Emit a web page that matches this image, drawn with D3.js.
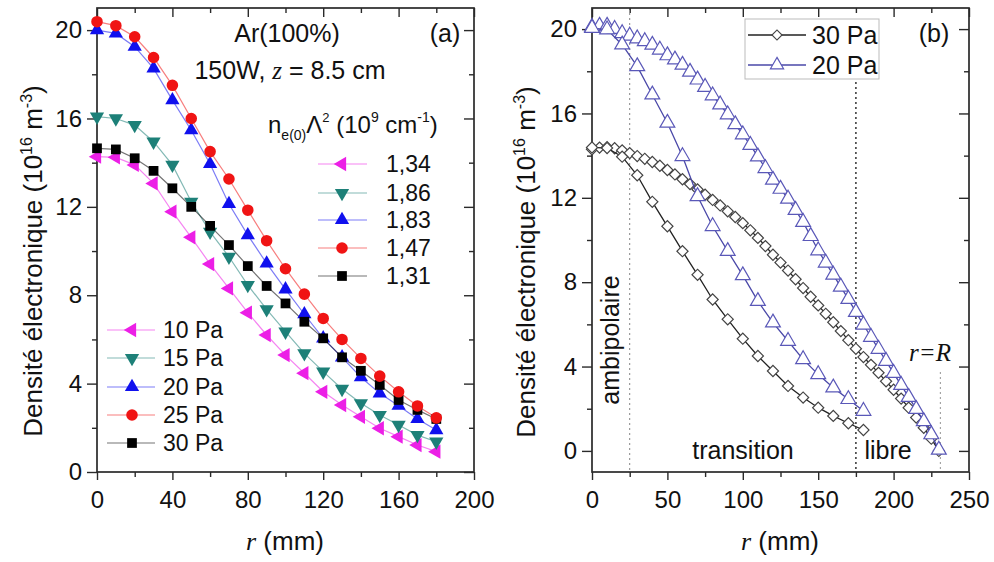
<!DOCTYPE html>
<html><head><meta charset="utf-8">
<script src="https://cdn.jsdelivr.net/npm/d3@7"></script>
<style>
body{margin:0;background:#fff;}
text{font-family:"Liberation Sans",Arial,sans-serif;fill:#111;}
</style></head>
<body><svg id="c" width="994" height="562"></svg>
<script>
// ---------- DATA ----------
// Panel (a): r positions (mm)
const rA = [0,10,20,30,40,50,60,70,80,90,100,110,120,130,140,150,160,170,180];
const p10 = [14.27,14.24,13.9,13.06,11.78,10.62,9.41,8.31,7.21,6.2,5.29,4.47,3.63,3.03,2.5,1.98,1.6,1.22,0.92];
const p15 = [16.08,16.0,15.7,14.95,13.9,12.23,10.87,9.74,8.46,7.36,6.35,5.37,4.54,3.76,3.11,2.58,2.13,1.67,1.37];
const p20 = [20.0,19.85,19.25,18.27,16.83,15.47,13.94,12.13,10.72,9.44,8.27,7.14,6.05,5.19,4.29,3.56,3.0,2.4,1.9];
const p25 = [20.38,20.2,19.7,18.76,17.5,16.0,14.5,13.26,11.85,10.47,9.2,8.05,6.95,6.0,5.14,4.34,3.63,2.99,2.45];
const p30 = [14.65,14.6,14.2,13.63,12.84,12.0,11.14,10.27,9.32,8.42,7.63,6.8,6.05,5.19,4.58,3.94,3.26,2.81,2.4];
const seriesNamesA = ["10 Pa","15 Pa","20 Pa","25 Pa","30 Pa"];
const lambdaLabels = ["1,34","1,86","1,83","1,47","1,31"];
const ticksAx = [0,40,80,120,160,200];
const ticksAy = [0,4,8,12,16,20];

// Panel (b)
const rSteep = [0,10,20,30,40,50,60,70,80,90,100,110,120,130,140,150,160,170,180];
const steep30 = [14.39,14.36,13.95,13.07,11.81,10.65,9.47,8.35,7.18,6.24,5.32,4.5,3.79,3.08,2.53,2.05,1.66,1.31,0.99];
const steep20 = [20.05,19.98,19.26,18.23,16.89,15.55,13.97,12.07,10.65,9.47,8.32,7.1,6.08,5.21,4.34,3.63,3.0,2.45,1.89];
const rWide = [0,5,10,15,20,25,30,35,40,45,50,55,60,65,70,75,80,85,90,95,100,105,110,115,120,125,130,135,140,145,150,155,160,165,170,175,180,185,190,195,200,205,210,215,220,225,230];
const wide30 = [14.30,14.38,14.40,14.35,14.25,14.12,13.98,13.85,13.70,13.52,13.32,13.11,12.88,12.65,12.40,12.15,11.90,11.64,11.36,11.09,10.80,10.46,10.10,9.71,9.30,8.93,8.55,8.14,7.72,7.31,6.90,6.50,6.10,5.68,5.25,4.84,4.45,4.08,3.70,3.30,2.90,2.48,2.05,1.58,1.10,0.58,0.0];
const wide20 = [20.10,20.15,20.15,20.0,19.80,19.68,19.55,19.42,19.25,19.02,18.75,18.55,18.30,17.97,17.60,17.25,16.85,16.42,15.95,15.48,15.00,14.50,13.95,13.40,12.85,12.42,11.95,11.42,10.85,10.18,9.50,8.92,8.35,7.78,7.20,6.58,5.98,5.40,4.83,4.26,3.69,3.12,2.55,1.98,1.40,0.78,0.05];
const seriesNamesB = ["30 Pa","20 Pa"];
const ticksBx = [0,50,100,150,200,250];
const ticksBy = [0,4,8,12,16,20];
const regionMarks = [25,175,231];

// ---------- DRAW ----------
const svg = d3.select("#c");
const FRAME = "#2a2a2a";

function frameAxes(x, y, majX, minX, majY, minY, fmtX) {
  const [x0,x1] = x.range(), [y0,y1] = y.range();
  const g = svg.append("g");
  const style = sel => { sel.select(".domain").remove(); sel.selectAll("line").attr("stroke",FRAME).attr("stroke-width",1.4);
    sel.selectAll("text").style("font-size","24px").style("font-family","'Liberation Sans',Arial,sans-serif").attr("fill","#111"); };
  g.append("g").attr("transform",`translate(0,${y0})`).call(d3.axisBottom(x).tickValues(majX).tickSize(8).tickPadding(11).tickFormat(fmtX)).call(style);
  g.append("g").attr("transform",`translate(0,${y0})`).call(d3.axisBottom(x).tickValues(minX).tickSize(5).tickFormat("")).call(style);
  g.append("g").attr("transform",`translate(${x0},0)`).call(d3.axisLeft(y).tickValues(majY).tickSize(10).tickPadding(5).tickFormat(d3.format("d"))).call(style);
  g.append("g").attr("transform",`translate(${x0},0)`).call(d3.axisLeft(y).tickValues(minY).tickSize(5).tickFormat("")).call(style);
  g.append("g").attr("transform",`translate(0,${y1})`).call(d3.axisTop(x).tickValues(majX).tickSize(-9).tickFormat("")).call(style);
  g.append("g").attr("transform",`translate(0,${y1})`).call(d3.axisTop(x).tickValues(minX).tickSize(-5).tickFormat("")).call(style);
  g.append("g").attr("transform",`translate(${x1},0)`).call(d3.axisRight(y).tickValues(majY).tickSize(-10).tickFormat("")).call(style);
  g.append("g").attr("transform",`translate(${x1},0)`).call(d3.axisRight(y).tickValues(minY).tickSize(-5).tickFormat("")).call(style);
  g.append("rect").attr("x",x0).attr("y",y1).attr("width",x1-x0).attr("height",y0-y1)
    .attr("fill","none").attr("stroke",FRAME).attr("stroke-width",1.7);
}

function yTitle(xb, yc) {
  const t = svg.append("text").attr("transform",`translate(${xb},${yc}) rotate(-90)`)
    .attr("text-anchor","middle").style("font-size","26px");
  t.append("tspan").text("Densité électronique (10");
  t.append("tspan").attr("dy",-10).style("font-size","16px").text("16");
  t.append("tspan").attr("dy",10).text(" m");
  t.append("tspan").attr("dy",-10).style("font-size","16px").text("-3");
  t.append("tspan").attr("dy",10).text(")");
}
function xTitle(xc) {
  const t = svg.append("text").attr("x",xc).attr("y",550).attr("text-anchor","middle").style("font-size","26px");
  t.append("tspan").style("font-family","'Liberation Serif',serif").style("font-style","italic").text("r");
  t.append("tspan").text(" (mm)");
}

// ---------- Panel (a) ----------
const xA = d3.scaleLinear().domain([0,200]).range([97,474]);
const yA = d3.scaleLinear().domain([0,21]).range([472,8]);
frameAxes(xA, yA, ticksAx, [20,60,100,140,180], ticksAy, [2,6,10,14,18], d3.format("d"));
yTitle(42, 261);
xTitle(285);

const colsA = ["#ec1fe6","#1d8078","#1010ee","#f01414","#000000"];
const symA = [
  {type:d3.symbolTriangle, rot:-90, size:88},
  {type:d3.symbolTriangle, rot:180, size:88},
  {type:d3.symbolTriangle, rot:0, size:88},
  {type:d3.symbolCircle, rot:0, size:105},
  {type:d3.symbolSquare, rot:0, size:95}
];
const dataA = [p10,p15,p20,p25,p30];
const lineA = d3.line().x((d,i)=>xA(rA[i])).y(d=>yA(d));
const order = [0,1,2,4,3];
order.forEach(k=>{
  svg.append("path").datum(dataA[k]).attr("d",lineA).attr("fill","none")
    .attr("stroke",colsA[k]).attr("stroke-opacity",0.55).attr("stroke-width",1.2);
});
order.forEach(k=>{
  const s = d3.symbol().type(symA[k].type).size(symA[k].size);
  svg.append("g").selectAll("path").data(dataA[k]).join("path")
    .attr("d",s).attr("fill",colsA[k])
    .attr("transform",(d,i)=>`translate(${xA(rA[i])},${yA(d)}) rotate(${symA[k].rot})`);
});

// legend 1 (pressures)
const leg1y = [330,358,387,415,443];
seriesNamesA.forEach((n,k)=>{
  const yy = leg1y[k];
  svg.append("line").attr("x1",107).attr("x2",155).attr("y1",yy).attr("y2",yy).attr("stroke",colsA[k]).attr("stroke-opacity",0.55).attr("stroke-width",1.2);
  svg.append("path").attr("d",d3.symbol().type(symA[k].type).size(symA[k].size)).attr("fill",colsA[k])
    .attr("transform",`translate(132,${yy}) rotate(${symA[k].rot})`);
  svg.append("text").attr("x",163).attr("y",yy+8).style("font-size","23px").text(n);
});
// legend 2 (lambda)
const leg2y = [164,193,220,248,276];
lambdaLabels.forEach((n,k)=>{
  const yy = leg2y[k];
  svg.append("line").attr("x1",318).attr("x2",367).attr("y1",yy).attr("y2",yy).attr("stroke",colsA[k]).attr("stroke-opacity",0.55).attr("stroke-width",1.2);
  svg.append("path").attr("d",d3.symbol().type(symA[k].type).size(symA[k].size)).attr("fill",colsA[k])
    .attr("transform",`translate(342,${yy}) rotate(${symA[k].rot})`);
  svg.append("text").attr("x",386).attr("y",yy+8).style("font-size","23px").text(n);
});
// annotations (a)
svg.append("text").attr("x",287).attr("y",42).attr("text-anchor","middle").style("font-size","25px").text("Ar(100%)");
{
  const t = svg.append("text").attr("x",290).attr("y",79).attr("text-anchor","middle").style("font-size","25px");
  t.append("tspan").text("150W, ");
  t.append("tspan").style("font-family","'Liberation Serif',serif").style("font-style","italic").text("z");
  t.append("tspan").text(" = 8.5 cm");
}
svg.append("text").attr("x",445).attr("y",42).attr("text-anchor","middle").style("font-size","25px").text("(a)");
{
  const t = svg.append("text").attr("x",268).attr("y",133).style("font-size","24px");
  t.append("tspan").text("n");
  t.append("tspan").attr("dy",7).style("font-size","14px").text("e(0)");
  t.append("tspan").attr("dy",-7).text("Λ");
  t.append("tspan").attr("dy",-11).style("font-size","13px").text("2");
  t.append("tspan").attr("dy",11).text(" (10");
  t.append("tspan").attr("dy",-11).style("font-size","14px").text("9");
  t.append("tspan").attr("dy",11).text(" cm");
  t.append("tspan").attr("dy",-11).style("font-size","14px").text("-1");
  t.append("tspan").attr("dy",11).text(")");
}

// ---------- Panel (b) ----------
const xB = d3.scaleLinear().domain([0,250]).range([592,969]);
const yB = d3.scaleLinear().domain([-1,21]).range([472,8]);

// region lines
svg.append("line").attr("x1",xB(regionMarks[0])).attr("x2",xB(regionMarks[0])).attr("y1",8).attr("y2",472)
  .attr("stroke","#777").attr("stroke-width",0.9).attr("stroke-dasharray","2,3");
svg.append("line").attr("x1",xB(regionMarks[1])).attr("x2",xB(regionMarks[1])).attr("y1",82).attr("y2",472)
  .attr("stroke","#333").attr("stroke-width",1.5).attr("stroke-dasharray","2,3");
svg.append("line").attr("x1",xB(regionMarks[2])).attr("x2",xB(regionMarks[2])).attr("y1",372).attr("y2",472)
  .attr("stroke","#888").attr("stroke-width",0.9).attr("stroke-dasharray","2,3");

frameAxes(xB, yB, ticksBx, [25,75,125,175,225], ticksBy, [2,6,10,14,18], d3.format("d"));
yTitle(535, 262);
xTitle(780);

const c30 = "#222222", c20 = "#4a48a8";
const lineS = d3.line().x((d,i)=>xB(rSteep[i])).y(d=>yB(d));
const lineW = d3.line().x((d,i)=>xB(rWide[i])).y(d=>yB(d));
const diamond = d3.symbol().type(d3.symbolSquare).size(62);
const tri = d3.symbol().type(d3.symbolTriangle).size(95);
const diamondL = d3.symbol().type(d3.symbolSquare).size(50);
const triL = d3.symbol().type(d3.symbolTriangle).size(75);

function drawB(data, rr, line, col, sym, rot, mstroke){
  svg.append("path").datum(data).attr("d",line).attr("fill","none").attr("stroke",col).attr("stroke-width",1.3);
  svg.append("g").selectAll("path").data(data).join("path").attr("d",sym)
    .attr("fill","#fff").attr("stroke",mstroke).attr("stroke-width",1.2)
    .attr("transform",(d,i)=>`translate(${xB(rr[i])},${yB(d)}) rotate(${rot})`);
}
drawB(wide30, rWide, lineW, c30, diamond, 45, "#444");
drawB(steep30, rSteep, lineS, c30, diamond, 45, "#444");
drawB(wide20, rWide, lineW, c20, tri, 0, "#5a58b8");
drawB(steep20, rSteep, lineS, c20, tri, 0, "#5a58b8");

// legend (b)
svg.append("rect").attr("x",745).attr("y",19).attr("width",134).attr("height",60).attr("fill","#fff").attr("stroke","#bbb").attr("stroke-width",1);
[[35,c30,diamondL,45,"#444"],[65,c20,triL,0,"#5a58b8"]].forEach((e,k)=>{
  svg.append("line").attr("x1",748).attr("x2",806).attr("y1",e[0]).attr("y2",e[0]).attr("stroke",e[1]).attr("stroke-width",1.3);
  svg.append("path").attr("d",e[2]).attr("fill","#fff").attr("stroke",e[4]).attr("stroke-width",1.2)
    .attr("transform",`translate(777,${e[0]}) rotate(${e[3]})`);
  svg.append("text").attr("x",812).attr("y",e[0]+9).style("font-size","25px").text(seriesNamesB[k]);
});
svg.append("text").attr("x",934).attr("y",42).attr("text-anchor","middle").style("font-size","25px").text("(b)");

// region annotations
svg.append("text").attr("transform","translate(619,340) rotate(-90)").attr("text-anchor","middle").style("font-size","25px").text("ambipolaire");
svg.append("text").attr("x",743).attr("y",459).attr("text-anchor","middle").style("font-size","25px").text("transition");
svg.append("text").attr("x",888).attr("y",459).attr("text-anchor","middle").style("font-size","25px").text("libre");
{
  const t = svg.append("text").attr("x",930).attr("y",361).attr("text-anchor","middle")
    .style("font-size","25px").style("font-family","'Liberation Serif',serif").style("font-style","italic");
  t.text("r=R");
}
</script></body></html>
